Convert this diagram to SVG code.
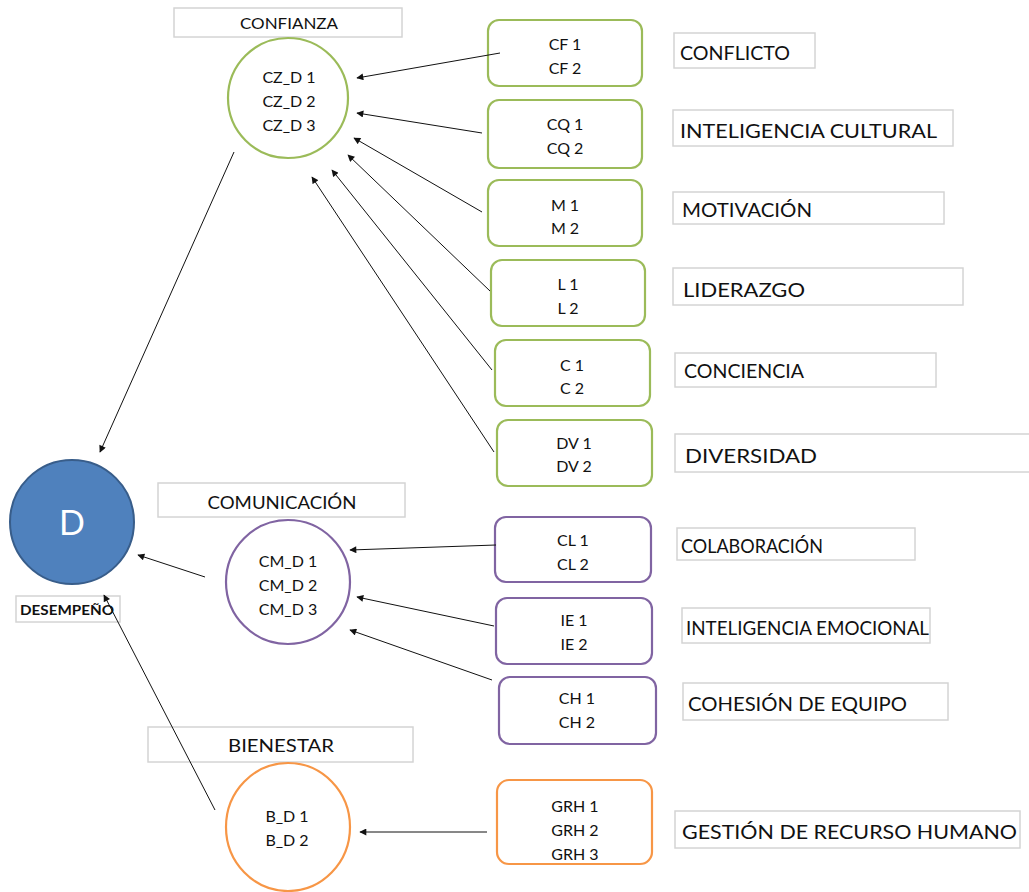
<svg xmlns="http://www.w3.org/2000/svg" width="1029" height="892" viewBox="0 0 1029 892">
<style>
.t{font-family:Lato,"Liberation Sans",sans-serif;fill:#111;text-anchor:middle}
.s{font-size:16px}
.l{font-size:19px;text-anchor:start}
.lb{fill:#fff;stroke:#d4d4d4;stroke-width:1.5}
.g{fill:#fff;stroke:#9BBB59;stroke-width:2.2}
.p{fill:#fff;stroke:#8064A2;stroke-width:2.2}
.o{fill:#fff;stroke:#F79646;stroke-width:2.2}
.c{stroke:#111;stroke-width:1;fill:none;marker-end:url(#ah)}
</style>
<defs>
<marker id="ah" viewBox="0 0 10 10" refX="9" refY="5" markerWidth="8" markerHeight="7" markerUnits="userSpaceOnUse" orient="auto">
<path d="M0,0 L10,5 L0,10 z" fill="#111"/>
</marker>
</defs>
<rect width="1029" height="892" fill="#fff"/>

<g id="confianza">
<rect class="lb" x="174" y="8" width="228" height="29"/>
<text class="t" x="289" y="29" font-size="16" textLength="98" lengthAdjust="spacingAndGlyphs">CONFIANZA</text>
<circle class="g" cx="288" cy="98" r="60"/>
<text class="t s" x="289" y="83">CZ_D 1</text>
<text class="t s" x="289" y="107">CZ_D 2</text>
<text class="t s" x="289" y="131">CZ_D 3</text>
</g>

<g id="cf">
<rect class="g" x="488" y="20" width="154" height="66" rx="11"/>
<text class="t s" x="565" y="50">CF 1</text>
<text class="t s" x="565" y="74">CF 2</text>
<rect class="lb" x="674" y="33" width="141" height="35"/>
<text class="t l" x="680" y="60" textLength="110" lengthAdjust="spacingAndGlyphs">CONFLICTO</text>
</g>

<g id="cq">
<rect class="g" x="488" y="100" width="154" height="68" rx="11"/>
<text class="t s" x="565" y="130">CQ 1</text>
<text class="t s" x="565" y="154">CQ 2</text>
<rect class="lb" x="673" y="110" width="280" height="36"/>
<text class="t l" x="680" y="138" textLength="257" lengthAdjust="spacingAndGlyphs">INTELIGENCIA CULTURAL</text>
</g>

<g id="m">
<rect class="g" x="488" y="180" width="154" height="66" rx="11"/>
<text class="t s" x="565" y="211">M 1</text>
<text class="t s" x="565" y="234">M 2</text>
<rect class="lb" x="673" y="192" width="271" height="32"/>
<text class="t l" x="682" y="217" textLength="130" lengthAdjust="spacingAndGlyphs">MOTIVACIÓN</text>
</g>

<g id="l">
<rect class="g" x="491" y="260" width="154" height="66" rx="11"/>
<text class="t s" x="568" y="290">L 1</text>
<text class="t s" x="568" y="314">L 2</text>
<rect class="lb" x="673" y="268" width="290" height="37"/>
<text class="t l" x="683" y="297" font-size="21" textLength="122" lengthAdjust="spacingAndGlyphs">LIDERAZGO</text>
</g>

<g id="c">
<rect class="g" x="495" y="340" width="155" height="66" rx="11"/>
<text class="t s" x="572" y="371">C 1</text>
<text class="t s" x="572" y="394">C 2</text>
<rect class="lb" x="675" y="353" width="261" height="34"/>
<text class="t l" x="684" y="378" font-size="18" textLength="120" lengthAdjust="spacingAndGlyphs">CONCIENCIA</text>
</g>

<g id="dv">
<rect class="g" x="497" y="420" width="155" height="66" rx="11"/>
<text class="t s" x="574" y="449">DV 1</text>
<text class="t s" x="574" y="472">DV 2</text>
<rect class="lb" x="675" y="434" width="360" height="38"/>
<text class="t l" x="685" y="463" font-size="21" textLength="132" lengthAdjust="spacingAndGlyphs">DIVERSIDAD</text>
</g>

<g id="desempeno">
<circle cx="72" cy="522" r="62" fill="#4F81BD" stroke="#385D8A" stroke-width="2"/>
<text class="t" x="72" y="535" font-size="34" style="fill:#fff">D</text>
<rect class="lb" x="16" y="596" width="104" height="26"/>
<text class="t" x="67" y="615" font-size="13" font-weight="bold" textLength="94" lengthAdjust="spacingAndGlyphs">DESEMPEÑO</text>
</g>

<g id="comunicacion">
<rect class="lb" x="158" y="483" width="247" height="34"/>
<text class="t" x="282" y="509" font-size="18" textLength="149" lengthAdjust="spacingAndGlyphs">COMUNICACIÓN</text>
<circle class="p" cx="288" cy="582" r="62"/>
<text class="t s" x="288" y="567">CM_D 1</text>
<text class="t s" x="288" y="591">CM_D 2</text>
<text class="t s" x="288" y="615">CM_D 3</text>
</g>

<g id="cl">
<rect class="p" x="495" y="517" width="156" height="65" rx="11"/>
<text class="t s" x="573" y="546">CL 1</text>
<text class="t s" x="573" y="570">CL 2</text>
<rect class="lb" x="677" y="528" width="238" height="32"/>
<text class="t l" x="681" y="553" font-size="17" textLength="142" lengthAdjust="spacingAndGlyphs">COLABORACIÓN</text>
</g>

<g id="ie">
<rect class="p" x="496" y="598" width="156" height="66" rx="11"/>
<text class="t s" x="574" y="626">IE 1</text>
<text class="t s" x="574" y="650">IE 2</text>
<rect class="lb" x="682" y="608" width="248" height="35"/>
<text class="t l" x="686" y="635" font-size="18" textLength="243" lengthAdjust="spacingAndGlyphs">INTELIGENCIA EMOCIONAL</text>
</g>

<g id="ch">
<rect class="p" x="499" y="677" width="157" height="67" rx="11"/>
<text class="t s" x="577" y="704">CH 1</text>
<text class="t s" x="577" y="728">CH 2</text>
<rect class="lb" x="683" y="683" width="265" height="37"/>
<text class="t l" x="688" y="711" font-size="19" textLength="219" lengthAdjust="spacingAndGlyphs">COHESIÓN DE EQUIPO</text>
</g>

<g id="bienestar">
<rect class="lb" x="148" y="727" width="265" height="35"/>
<text class="t" x="281" y="752" font-size="18" textLength="106" lengthAdjust="spacingAndGlyphs">BIENESTAR</text>
<ellipse class="o" cx="288" cy="827" rx="62" ry="64"/>
<text class="t s" x="287" y="822">B_D 1</text>
<text class="t s" x="287" y="846">B_D 2</text>
</g>

<g id="grh">
<rect class="o" x="497" y="780" width="155" height="84" rx="12"/>
<text class="t s" x="575" y="812">GRH 1</text>
<text class="t s" x="575" y="836">GRH 2</text>
<text class="t s" x="575" y="860">GRH 3</text>
<rect class="lb" x="675" y="811" width="345" height="37"/>
<text class="t l" x="682" y="839" font-size="20" textLength="335" lengthAdjust="spacingAndGlyphs">GESTIÓN DE RECURSO HUMANO</text>
</g>

<g id="connectors">
<line class="c" x1="500" y1="53" x2="357" y2="78"/>
<line class="c" x1="482" y1="133" x2="357" y2="113"/>
<line class="c" x1="482" y1="212" x2="354" y2="138"/>
<line class="c" x1="490" y1="291" x2="348" y2="155"/>
<line class="c" x1="492" y1="370" x2="332" y2="170"/>
<line class="c" x1="494" y1="452" x2="312" y2="177"/>
<line class="c" x1="234" y1="152" x2="100" y2="452"/>
<line class="c" x1="205" y1="577" x2="138" y2="555"/>
<line class="c" x1="496" y1="545" x2="350" y2="550"/>
<line class="c" x1="494" y1="626" x2="357" y2="597"/>
<line class="c" x1="492" y1="680" x2="350" y2="630"/>
<line class="c" x1="215" y1="810" x2="104" y2="595"/>
<line class="c" x1="487" y1="832" x2="360" y2="832"/>
</g>
</svg>
